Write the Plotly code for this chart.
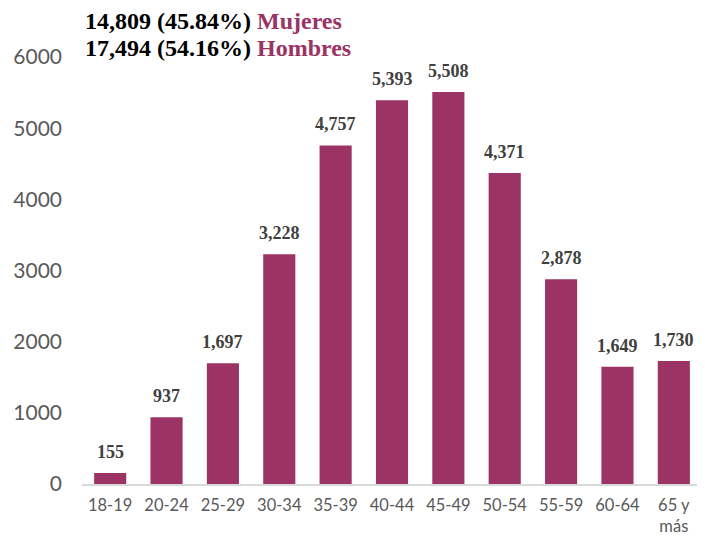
import plotly.graph_objects as go

# age groups and counts
categories = ["18-19", "20-24", "25-29", "30-34", "35-39", "40-44",
              "45-49", "50-54", "55-59", "60-64", "65 y<br>más"]
values = [155, 937, 1697, 3228, 4757, 5393, 5508, 4371, 2878, 1649, 1730]

summary_counts = ["14,809 (45.84%)", "17,494 (54.16%)"]
summary_labels = ["Mujeres", "Hombres"]

bar_color = "#9B3365"

fig = go.Figure()
fig.add_trace(go.Bar(
    x=categories,
    y=values,
    marker=dict(color=bar_color, line=dict(width=0)),
    width=0.57,
    hoverinfo="skip",
))

# value labels above bars (a bit of extra gap, like the original)
for cat, val in zip(categories, values):
    fig.add_annotation(
        x=cat, y=val, xref="x", yref="y",
        text=f"<b>{val:,}</b>",
        showarrow=False,
        xanchor="center", yanchor="bottom",
        yshift=9,
        font=dict(family="Liberation Serif", size=18, color="#404040"),
    )

# summary lines in top-left
for i, (cnt, lab) in enumerate(zip(summary_counts, summary_labels)):
    fig.add_annotation(
        x=0, y=1,
        xref="paper", yref="paper",
        xanchor="left", yanchor="middle",
        xshift=1, yshift=36.5 - i * 27,
        text=f"<b>{cnt} <span style='color:{bar_color}'>{lab}</span></b>",
        showarrow=False,
        font=dict(family="Liberation Serif", size=24, color="#000000"),
    )

# page body has an 8px margin, so the figure is a bit smaller than the window
fig.update_layout(
    width=697, height=531,
    margin=dict(l=74, r=3, t=49, b=55),
    plot_bgcolor="white",
    paper_bgcolor="white",
    showlegend=False,
    font=dict(family="Lato", color="#595959"),
    xaxis=dict(
        showgrid=False,
        showline=True,
        linecolor="#D9D9D9",
        linewidth=1.5,
        ticks="",
        automargin=False,
        ticklabelstandoff=5,
        tickfont=dict(size=16.5, color="#595959"),
    ),
    yaxis=dict(
        range=[0, 6000],
        tickvals=[0, 1000, 2000, 3000, 4000, 5000, 6000],
        showgrid=False,
        zeroline=False,
        showline=False,
        ticks="",
        automargin=False,
        ticklabelstandoff=19,
        tickfont=dict(size=21, color="#595959"),
    ),
)

fig.write_html("out.html")
